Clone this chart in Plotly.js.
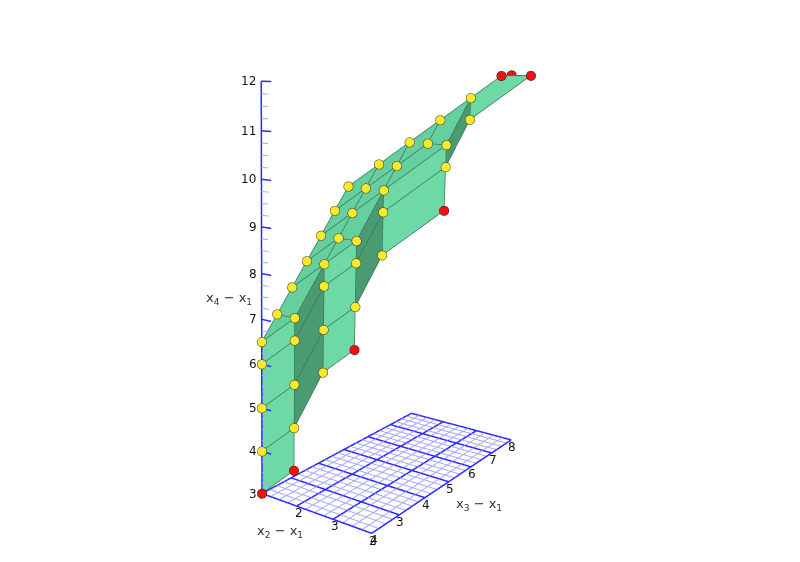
<!DOCTYPE html>
<html>
<head>
<meta charset="utf-8">
<script src="https://cdn.plot.ly/plotly-3.0.1.min.js"></script>
<style>
html,body{margin:0;padding:0;background:#fff;width:800px;height:562px;overflow:hidden}
#chart{position:absolute;left:0;top:-161px;width:800px;height:835px}
</style>
</head>
<body>
<div id="chart"></div>
<script>
// axis ticks and titles
var x2Ticks = [2, 3, 4];
var x3Ticks = [2, 3, 4, 5, 6, 7, 8];
var x4Ticks = [3, 4, 5, 6, 7, 8, 9, 10, 11, 12];
var x2Title = 'x<sub>2</sub> − x<sub>1</sub>';
var x3Title = 'x<sub>3</sub> − x<sub>1</sub>';
var x4Title = 'x<sub>4</sub> − x<sub>1</sub>';
var x2Span = [1, 4], x3Span = [2, 8], x4Span = [3, 12];

// yellow lattice points
var yellowX2 = [1,1,1,1, 1.5,1.5,1.5,1.5, 1.5,1.5,1.5,1.5, 2,2,2, 2,2,2, 3,3, 3,3, 1,1,1,1,1,1,1.5,2,2.5, 1.5,1.5,1.5,2,2.5];
var yellowX3 = [2,2,2,2, 2.5,2.5,2.5,2.5, 3.5,3.5,3.5,3.5, 4,4,4, 5,5,5, 6,6, 7,7, 2.5,3,3.5,4,4.5,5,5.5,6,6.5, 4,4.5,5,5.5,6];
var yellowX4 = [4,5,6,6.5, 4.5,5.5,6.5,7, 5.5,6.5,7.5,8, 7,8,8.5, 8,9,9.5, 10,10.5, 11,11.5, 7,7.5,8,8.5,9,9.5,10,10.5,11, 8.5,9,9.5,10,10.5];
// red generator points
var redX2 = [1, 1.5, 2, 3, 3.5, 4];
var redX3 = [2, 2.5, 4, 6, 7.5, 8];
var redX4 = [3, 3.5, 6, 9, 12, 12];
// red point that sits behind the top facet
var redBackX2 = [3.5], redBackX3 = [8], redBackX4 = [12];

// light faces (walls) as [x2, x3, x4] corners
var lightFaces = [
 [[1,2,3],[1.5,2.5,3.5],[1.5,2.5,4.5],[1,2,4]],
 [[1,2,4],[1.5,2.5,4.5],[1.5,2.5,5.5],[1,2,5]],
 [[1,2,5],[1.5,2.5,5.5],[1.5,2.5,6.5],[1,2,6]],
 [[1,2,6],[1.5,2.5,6.5],[1.5,2.5,7],[1,2,6.5]],
 [[1.5,3.5,5.5],[2,4,6],[2,4,7],[1.5,3.5,6.5]],
 [[1.5,3.5,6.5],[2,4,7],[2,4,8],[1.5,3.5,7.5]],
 [[1.5,3.5,7.5],[2,4,8],[2,4,8.5],[1.5,3.5,8]],
 [[2,5,8],[3,6,9],[3,6,10],[2,5,9]],
 [[2,5,9],[3,6,10],[3,6,10.5],[2,5,9.5]],
 [[3,7,11],[4,8,12],[3.5,7.5,12],[3,7,11.5]]
];
// dark faces (steps)
var darkFaces = [
 [[1.5,2.5,4.5],[1.5,3.5,5.5],[1.5,3.5,6.5],[1.5,2.5,5.5]],
 [[1.5,2.5,5.5],[1.5,3.5,6.5],[1.5,3.5,7.5],[1.5,2.5,6.5]],
 [[1.5,2.5,6.5],[1.5,3.5,7.5],[1.5,3.5,8],[1.5,2.5,7]],
 [[2,4,7],[2,5,8],[2,5,9],[2,4,8]],
 [[2,4,8],[2,5,9],[2,5,9.5],[2,4,8.5]],
 [[3,6,10],[3,7,11],[3,7,11.5],[3,6,10.5]]
];
// roof faces
var roofFaces = [
 [[1,2,6.5],[1.5,2.5,7],[1,2.5,7]],
 [[1,2.5,7],[1.5,2.5,7],[1.5,3.5,8],[1,3,7.5]],
 [[1,3,7.5],[1.5,3.5,8],[1.5,4,8.5],[1,3.5,8]],
 [[1,3.5,8],[1.5,4,8.5],[1.5,4.5,9],[1,4,8.5]],
 [[1,4,8.5],[1.5,4.5,9],[1.5,5,9.5],[1,4.5,9]],
 [[1,4.5,9],[1.5,5,9.5],[1.5,5.5,10],[1,5,9.5]],
 [[1.5,5,9.5],[2,5.5,10],[2,6,10.5],[1.5,5.5,10]],
 [[2,5.5,10],[2.5,6,10.5],[2.5,6.5,11],[2,6,10.5]],
 [[2.5,6,10.5],[3,6,10.5],[3,7,11.5],[2.5,6.5,11]],
 [[1.5,3.5,8],[2,4,8.5],[1.5,4,8.5]],
 [[1.5,4,8.5],[2,4,8.5],[2,5,9.5],[1.5,4.5,9]],
 [[1.5,4.5,9],[2,5,9.5],[2,5.5,10],[1.5,5,9.5]],
 [[2,5,9.5],[3,6,10.5],[2.5,6,10.5],[2,5.5,10]],
 [[3.5,7.5,12],[4,8,12],[3.5,8,12]]
];

var lightColor = '#6fd9a6', roofColor = '#66cf9f', darkColor = '#4a9a72';
var edgeColor = '#38785a', majorBlue = '#2a2aff', minorBlue = '#a8a8ff';

// view set-up: box proportions of the spans, eye and centre in box units
var unitAspect = [0.325, 0.7055, 1.0085];
var spans = [x2Span, x3Span, x4Span];
var pad = 0.35;
var eye = [1.3184, -2.1369, 0.6003], look = [-0.2259, -0.2436, 0.0703];

// slide a data point along the sight line so it stays on the same pixel
function towardEye(p, s) {
  return p.map(function(v, a) {
    var lo = spans[a][0], hi = spans[a][1], k = unitAspect[a] / (hi - lo);
    var n = (v - (lo + hi) / 2) * k;
    n = n + s * (eye[a] - n);
    return n / k + (lo + hi) / 2;
  });
}

function meshOf(faces, color) {
  var xs=[],ys=[],zs=[],ii=[],jj=[],kk=[];
  faces.forEach(function(f){
    var b=xs.length;
    f.forEach(function(p){xs.push(p[0]);ys.push(p[1]);zs.push(p[2]);});
    for(var t=1;t<f.length-1;t++){ii.push(b);jj.push(b+t);kk.push(b+t+1);}
  });
  return {type:'mesh3d',x:xs,y:ys,z:zs,i:ii,j:jj,k:kk,color:color,opacity:1,flatshading:true,
    lighting:{ambient:1,diffuse:0,specular:0,roughness:1,fresnel:0},hoverinfo:'skip',showscale:false};
}
function linesTrace(segs,color,width,s){
  var xs=[],ys=[],zs=[];
  segs.forEach(function(seg){
    seg.forEach(function(p){var q=s?towardEye(p,s):p;xs.push(q[0]);ys.push(q[1]);zs.push(q[2]);});
    xs.push(null);ys.push(null);zs.push(null);
  });
  return {type:'scatter3d',mode:'lines',x:xs,y:ys,z:zs,line:{color:color,width:width},hoverinfo:'skip',connectgaps:false,showlegend:false};
}
function pointsTrace(X,Y,Z,fill,rim,s){
  var xs=[],ys=[],zs=[];
  X.forEach(function(v,n){var q=towardEye([v,Y[n],Z[n]],s);xs.push(q[0]);ys.push(q[1]);zs.push(q[2]);});
  return {type:'scatter3d',mode:'markers',x:xs,y:ys,z:zs,marker:{size:5.5,color:fill,opacity:1,line:{color:rim,width:1}},hoverinfo:'skip'};
}
var edgeSegs=[];
lightFaces.concat(darkFaces,roofFaces).forEach(function(f){
  f.forEach(function(p,n){edgeSegs.push([p,f[(n+1)%f.length]]);});
});
// floor grid and vertical axis: major lines on whole numbers, minor every quarter
var major=[],minor=[];
var xm0=x2Span[0],xm1=x2Span[1],ym0=x3Span[0],ym1=x3Span[1],zb=x4Span[0],zt=x4Span[1];
for(var n=0;n<=(xm1-xm0)*4;n++){
  var v=xm0+n*0.25;
  ((n%4===0)?major:minor).push([[v,ym0,zb],[v,ym1,zb]]);
}
for(var n=0;n<=(ym1-ym0)*4;n++){
  var v=ym0+n*0.25;
  ((n%4===0)?major:minor).push([[xm0,v,zb],[xm1,v,zb]]);
}
var axisMajor=[[[xm0,ym0,zb],[xm0,ym0,zt]]], axisMinor=[];
for(var n=0;n<=(zt-zb)*4;n++){
  var v=zb+n*0.25;
  if(n%4===0) axisMajor.push([[xm0,ym0,v],[xm0+0.27,ym0,v]]);
  else axisMinor.push([[xm0,ym0,v],[xm0+0.19,ym0,v]]);
}

var tickFont={family:'DejaVu Sans',size:12,color:'#111'};
var titleFont={family:'DejaVu Sans',size:13,color:'#333'};
var anns=[];
function ann(x,y,z,text,dx,dy,font,anchor){
  anns.push({x:x,y:y,z:z,text:text,showarrow:false,xshift:dx,yshift:dy,font:font,xanchor:anchor||'center',yanchor:'middle'});
}
x4Ticks.forEach(function(t){ann(1,2,t,String(t),-3,0,tickFont,'right');});
x2Ticks.forEach(function(t){ann(t,2,3,String(t),2,-7,tickFont);});
x3Ticks.forEach(function(t){ann(4,t,3,String(t),1,-7.5,tickFont);});
ann(1,2,7.45,x4Title,-33,0,titleFont);
ann(1.8,2,3,x2Title,-9,-28,titleFont);
ann(4,5,3,x3Title,30,-23,titleFont);

var data=[
  linesTrace(minor,minorBlue,2),
  linesTrace(major,majorBlue,3),
  linesTrace(axisMinor,minorBlue,2,0.006),
  linesTrace(axisMajor,majorBlue,3,0.006),
  meshOf(lightFaces,lightColor),
  meshOf(darkFaces,darkColor),
  meshOf(roofFaces,roofColor),
  linesTrace(edgeSegs,edgeColor,1.5,0.003),
  pointsTrace(yellowX2,yellowX3,yellowX4,'#f7e92f','#3a3a10',0.03),
  pointsTrace(redX2,redX3,redX4,'#ee1111','#4a0808',0.03),
  pointsTrace(redBackX2,redBackX3,redBackX4,'#ee1111','#4a0808',0)
];
function hiddenAxis(a){
  var lo=spans[a][0],hi=spans[a][1],m=(hi-lo)*pad/3;
  return {range:[lo-m,hi+m],autorange:false,showgrid:false,zeroline:false,showline:false,showticklabels:false,ticks:'',showspikes:false,showbackground:false,title:{text:''}};
}
function aspectOf(a){ return unitAspect[a]*(1+2*pad/3); }
var layout={
  width:800,height:835,margin:{l:0,r:0,t:0,b:0,pad:0},paper_bgcolor:'#fff',showlegend:false,
  scene:{
    domain:{x:[0,0.675],y:[0,1]},
    xaxis:hiddenAxis(0),yaxis:hiddenAxis(1),zaxis:hiddenAxis(2),
    aspectmode:'manual',aspectratio:{x:aspectOf(0),y:aspectOf(1),z:aspectOf(2)},
    camera:{eye:{x:eye[0],y:eye[1],z:eye[2]},center:{x:look[0],y:look[1],z:look[2]},up:{x:0,y:0,z:1},projection:{type:'perspective'}},
    annotations:anns
  }
};
Plotly.newPlot('chart',data,layout,{displayModeBar:false});
</script>
</body>
</html>
